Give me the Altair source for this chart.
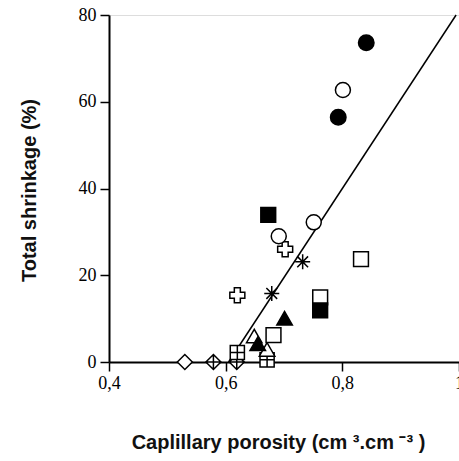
import altair as alt
import pandas as pd

# Capillary porosity (cm3/cm3) and total shrinkage (%) per specimen group
filled_circle_x = [0.841, 0.793]
filled_circle_y = [73.6, 56.4]

open_circle_x = [0.801, 0.751, 0.691]
open_circle_y = [62.7, 32.2, 29.0]

open_square_x = [0.832, 0.762, 0.682]
open_square_y = [23.7, 14.9, 6.2]

filled_square_x = [0.673, 0.762]
filled_square_y = [33.9, 11.9]

grid_square_x = [0.620, 0.671]
grid_square_y = [2.2, 0.5]

plus_x = [0.702, 0.620]
plus_y = [26.0, 15.4]

star_x = [0.732, 0.679]
star_y = [23.1, 15.8]

filled_tri_x = [0.701, 0.655]
filled_tri_y = [10.1, 4.2]

open_tri_x = [0.649, 0.671]
open_tri_y = [6.0, 2.9]

diamond_x = [0.530]
diamond_y = [0.0]

cross_diamond_x = [0.579, 0.619]
cross_diamond_y = [0.0, 0.0]

# Linear fit drawn from where it leaves the x axis
fit_x = [0.605, 0.995]
fit_y = [0.0, 80.0]

x_ticks = [0.4, 0.6, 0.8, 1.0]
y_ticks = [0, 20, 40, 60, 80]

ASTERISK = "M0,-1V1M-1,0H1M-0.72,-0.72L0.72,0.72M-0.72,0.72L0.72,-0.72"
GRID_SQUARE = "M-1,-1H1V1H-1Z M0,-1V1 M-1,0H1"
CROSS_DIAMOND = "M0,-1L1,0L0,1L-1,0Z M0,-1V1 M-1,0H1"

x_scale = alt.Scale(domain=[0.4, 1.0], nice=False, zero=False)
y_scale = alt.Scale(domain=[0, 80], nice=False)

x_axis = alt.Axis(
    values=x_ticks,
    labelExpr="datum.value == 1 ? '1' : replace(format(datum.value, '.1f'), '.', ',')",
    title="Caplillary porosity (cm \u00b3.cm \u207b\u00b3 )",
    grid=False, domainColor="black", domainWidth=2, tickColor="black",
    tickWidth=1.5, tickSize=9, labelFont="Liberation Serif", labelFontSize=18,
    labelColor="black", labelPadding=3, labelFlush=False,
    titleFont="Liberation Sans", titleFontSize=20, titleFontWeight="bold",
    titleColor="#111111", titleX=169, titleY=86, titleBaseline="alphabetic",
)
y_axis = alt.Axis(
    values=y_ticks,
    title="Total shrinkage (%)",
    grid=False, domainColor="black", domainWidth=2, tickColor="black",
    tickWidth=1.5, tickSize=9, labelFont="Liberation Serif", labelFontSize=18,
    labelColor="black", labelPadding=4, labelFlush=False,
    titleFont="Liberation Sans", titleFontSize=20, titleFontWeight="bold",
    titleColor="#111111", titleX=-80, titleY=175, titleBaseline="middle",
    titleAngle=-90,
)


def points(xs, ys, shape, fill, size=225):
    df = pd.DataFrame({"x": xs, "y": ys})
    return alt.Chart(df).mark_point(
        shape=shape, filled=True, fill=fill, stroke="black",
        strokeWidth=1.5, size=size, opacity=1,
    ).encode(
        x=alt.X("x:Q", scale=x_scale, axis=x_axis),
        y=alt.Y("y:Q", scale=y_scale, axis=y_axis),
    )


fit = alt.Chart(pd.DataFrame({"x": fit_x, "y": fit_y})).mark_line(
    color="black", strokeWidth=1.5
).encode(
    x=alt.X("x:Q", scale=x_scale, axis=x_axis),
    y=alt.Y("y:Q", scale=y_scale, axis=y_axis),
)

chart = alt.layer(
    fit,
    points(diamond_x, diamond_y, "diamond", "white"),
    points(cross_diamond_x, cross_diamond_y, CROSS_DIAMOND, "white"),
    points(grid_square_x, grid_square_y, GRID_SQUARE, "white", 200),
    points(open_tri_x, open_tri_y, "triangle-up", "white", 240),
    points(filled_tri_x, filled_tri_y, "triangle-up", "black", 240),
    points(open_square_x, open_square_y, "square", "white", 220),
    points(filled_square_x, filled_square_y, "square", "black", 220),
    points(plus_x, plus_y, "cross", "white", 225),
    points(star_x, star_y, ASTERISK, "none", 225),
    points(open_circle_x, open_circle_y, "circle", "white", 225),
    points(filled_circle_x, filled_circle_y, "circle", "black", 240),
).properties(
    width=350,
    height=347,
    autosize=alt.AutoSizeParams(type="none"),
    padding={"left": 109, "top": 15, "right": 0, "bottom": 99},
).configure_view(stroke=None).configure(background="white")

chart.save("out.html", embed_options={"renderer": "svg", "actions": False})
